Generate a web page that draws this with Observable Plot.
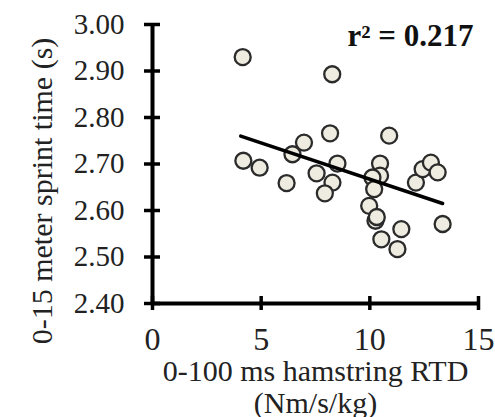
<!DOCTYPE html>
<html>
<head>
<meta charset="utf-8">
<script src="https://cdn.jsdelivr.net/npm/d3@7"></script>
<script src="https://cdn.jsdelivr.net/npm/@observablehq/plot@0.6"></script>
<style>
  html, body { margin: 0; padding: 0; background: #fff; }
  #chart svg { display: block; }
</style>
</head>
<body>
<div id="chart"></div>
<script>
// Data
const rtd = [4.15, 8.27, 8.17, 6.97, 6.44, 4.18, 4.93, 6.17, 7.55, 8.28, 7.93, 10.89, 8.51, 10.47,
             10.47, 10.12, 10.2, 9.97, 10.26, 10.32, 10.53, 11.45, 11.27, 12.12, 12.43, 12.81, 13.12, 13.35];
const sprint = [2.930, 2.893, 2.766, 2.746, 2.721, 2.707, 2.692, 2.659, 2.680, 2.660, 2.637, 2.761, 2.701, 2.701,
                2.675, 2.671, 2.646, 2.610, 2.578, 2.586, 2.538, 2.560, 2.517, 2.660, 2.689, 2.703, 2.682, 2.571];
const trendX = [4.06, 13.35];
const trendY = [2.760, 2.615];
const xTicks = [0, 5, 10, 15];
const yTicks = [2.40, 2.50, 2.60, 2.70, 2.80, 2.90, 3.00];
const rSquaredLabel = "r² = 0.217";
const xTitle = "0-100 ms hamstring RTD\n(Nm/s/kg)";
const yTitle = "0-15 meter sprint time (s)";

const points = rtd.map((x, i) => ({x, y: sprint[i]}));
const trend = trendX.map((x, i) => ({x, y: trendY[i]}));

const chart = Plot.plot({
  width: 495,
  height: 417,
  marginLeft: 152,
  marginRight: 17,
  marginTop: 24,
  marginBottom: 114,
  style: {fontFamily: "'Liberation Serif', 'Times New Roman', serif", color: "#222", background: "#fff"},
  x: {domain: [0, 15]},
  y: {domain: [2.4, 3.0]},
  marks: [
    Plot.ruleX([0], {stroke: "#000", strokeWidth: 4}),
    Plot.ruleY([2.4], {stroke: "#000", strokeWidth: 4}),
    Plot.axisY(yTicks, {
      tickSize: 16, dx: 8, tickPadding: 20, strokeWidth: 3.5, stroke: "#000",
      tickFormat: d3.format(".2f"), fontSize: 29, fill: "#222", label: null,
      fontFamily: "'Liberation Serif', serif"
    }),
    Plot.axisX(xTicks, {
      tickSize: 14, dy: -7, tickPadding: 17, strokeWidth: 3.5, stroke: "#000",
      tickFormat: d3.format("d"), fontSize: 32, fill: "#222", label: null,
      fontFamily: "'Liberation Serif', serif"
    }),
    Plot.dot(points, {x: "x", y: "y", r: 8, fill: "#eeece0", stroke: "#2b2b2b", strokeWidth: 2.3}),
    Plot.line(trend, {x: "x", y: "y", stroke: "#000", strokeWidth: 3.5}),
    Plot.text([rSquaredLabel], {
      frameAnchor: "top-right", dx: -5, dy: -1, lineAnchor: "top",
      fontSize: 31, fontWeight: "bold", fill: "#111", textAnchor: "end"
    }),
    Plot.text([xTitle], {
      frameAnchor: "bottom", dy: 54, lineAnchor: "top", lineHeight: 1.08,
      fontSize: 30, fill: "#222", textAnchor: "middle"
    }),
    Plot.text([yTitle], {
      frameAnchor: "left", dx: -110, dy: 27, rotate: -90, lineAnchor: "middle",
      fontSize: 30, fill: "#222", textAnchor: "middle"
    })
  ]
});
document.getElementById("chart").appendChild(chart);
</script>
</body>
</html>
